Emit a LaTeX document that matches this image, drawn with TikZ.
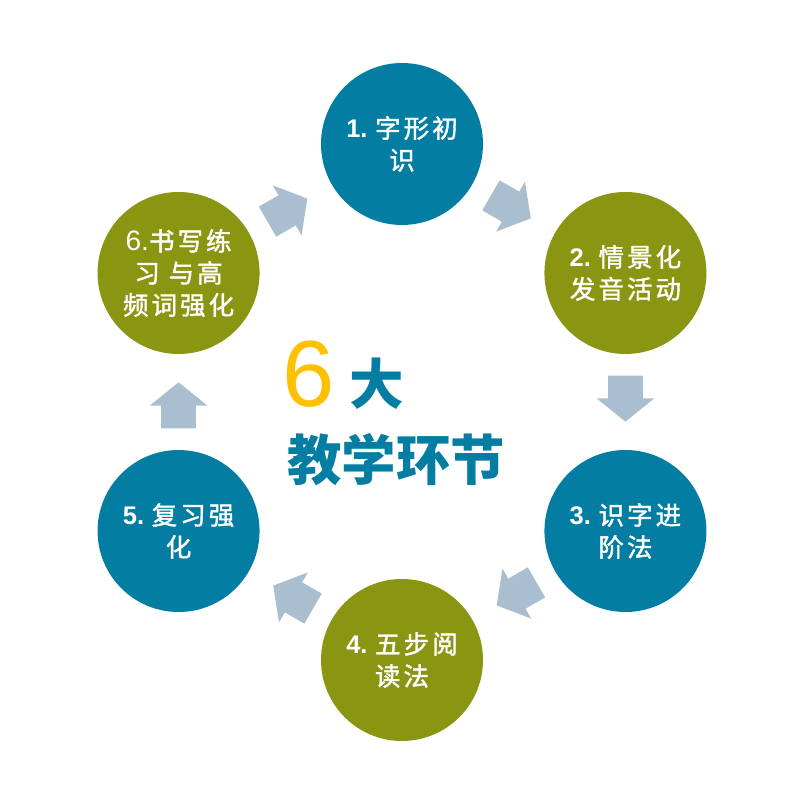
\documentclass[tikz,border=0pt]{standalone}
\usepackage{fontspec}
\usepackage{tikz}
\usetikzlibrary{positioning,calc,shapes.arrows}
\setmainfont{Liberation Sans}
\newfontfamily\cjk{Noto Sans CJK SC}
\newfontfamily\cjkwide{Noto Sans CJK SC}[LetterSpace=12, FakeBold=1.5]
\definecolor{teal}{HTML}{037EA2}
\definecolor{olive}{HTML}{8A9612}
\definecolor{flowgrey}{HTML}{A9BFCF}
\definecolor{gold}{HTML}{FFC000}
\newcommand{\num}[1]{{\rmfamily\bfseries #1}\hspace{0.3em}}

\begin{document}
\begin{tikzpicture}[
  stage/.style={circle, draw=none, minimum size=3.24cm, inner sep=0pt, text=white, align=center,
    font=\cjkwide\fontsize{14.5}{18.2}\selectfont},
  tealstage/.style={stage, fill=teal},
  olivestage/.style={stage, fill=olive},
  flow/.style={single arrow, draw=none, fill=flowgrey, minimum height=0.92cm,
    inner xsep=0pt, inner ysep=0.34cm, single arrow head extend=0.23cm,
    single arrow tip angle=102}
]
\useasboundingbox (-8.04,-7.96) rectangle (7.96,8.04);
% six stages round a hexagon
\node[tealstage] (s1) at (90:5.16) {\num{1.}字形初\\识};
\node[olivestage] (s2) at (30:5.16) {\num{2.}情景化\\发音活动};
\node[tealstage] (s3) at (-30:5.16) {\num{3.}识字进\\阶法};
\node[olivestage] (s4) at (-90:5.16) {\num{4.}五步阅\\读法};
\node[tealstage] (s5) at (-150:5.16) {\num{5.}复习强\\化};
\node[olivestage] (s6) at (150:5.16) {{\rmfamily\fontsize{16}{18.2}\selectfont 6.}书写练\\习 与高\\频词强化};
% arrows between stages
\node[flow, rotate=-30] (f12) at ($(s1)!0.46!(s2)$) {};
\node[flow, rotate=-90] (f23) at ($(s2)!0.46!(s3)$) {};
\node[flow, rotate=-150] (f34) at ($(s3)!0.46!(s4)$) {};
\node[flow, rotate=150] (f45) at ($(s4)!0.46!(s5)$) {};
\node[flow, rotate=90] (f56) at ($(s5)!0.46!(s6)$) {};
\node[flow, rotate=30] (f61) at ($(s6)!0.46!(s1)$) {};
% title in the middle
\node[anchor=base, inner sep=0pt, text=gold, font=\fontsize{53.5}{60}\selectfont] (six) at (-1.87,-0.1) {6};
\node[anchor=base, inner sep=0pt, text=teal, font=\cjk\bfseries\fontsize{31}{36}\selectfont] (big) at (-0.5,-0.06) {大};
\node[anchor=base, inner sep=0pt, text=teal, font=\cjk\bfseries\fontsize{31}{36}\selectfont] (title) at (-0.12,-1.58) {教学环节};
\end{tikzpicture}
\end{document}
